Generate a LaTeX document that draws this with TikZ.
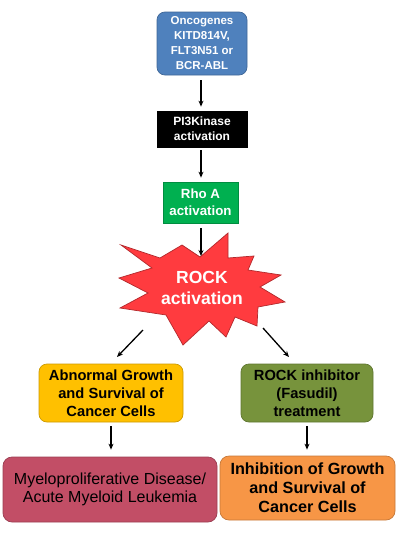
\documentclass[tikz,border=0pt]{standalone}
\usepackage{fontspec}
\setmainfont{Liberation Sans}
\usetikzlibrary{arrows.meta}
\definecolor{cblue}{HTML}{4F81BD}
\definecolor{cgreen}{HTML}{00B050}
\definecolor{cstar}{HTML}{FF3B3F}
\definecolor{cyellow}{HTML}{FFC000}
\definecolor{colive}{HTML}{77933C}
\definecolor{crose}{HTML}{C24E66}
\definecolor{corange}{HTML}{F79646}
\tikzset{
  box/.style={draw=#1!80!black, fill=#1, line width=0.7pt, inner sep=0pt, align=center},
  arr/.style={-{Stealth[length=6pt,width=5pt]}, line width=1.3pt, black},
}
\begin{document}
\begin{tikzpicture}[x=1pt,y=-1pt]
\useasboundingbox (0,0) rectangle (400,533);
% top chain
\node[box=cblue, rounded corners=8pt, minimum width=90pt, minimum height=63pt,
      text=white, font={\fontsize{11.5}{15}\selectfont\bfseries}]
  (onc) at (202,43.5) {Oncogenes\\KITD814V,\\FLT3N51 or\\BCR-ABL};
\node[box=black, minimum width=90pt, minimum height=36pt,
      text=white, font={\fontsize{12}{15}\selectfont\bfseries}]
  (pi3) at (202,129) {PI3Kinase\\activation};
\node[box=cgreen, minimum width=75pt, minimum height=41pt,
      text=white, font={\fontsize{13.3}{17}\selectfont\bfseries}]
  (rho) at (200.5,202.5) {Rho A\\activation};
% star
\draw[fill=cstar, draw=cstar!70!black, line width=0.7pt]
  (228,233) -- (228,258) -- (254,256) -- (248,270) -- (281,275) -- (260,287)
  -- (285,302) -- (258,307) -- (257,326) -- (235,317) -- (226,337) -- (209,321)
  -- (183,345) -- (166,315) -- (120,308) -- (148,293) -- (119,278) -- (152,268)
  -- (121,245) -- (160,258) -- (182,245) -- (200,257) -- cycle;
\node[text=white, align=center, inner sep=0pt,
      font={\fontsize{17.5}{21}\selectfont\bfseries}]
  (rock) at (202,288) {ROCK\\activation};
\coordinate (startop) at (201,256);
\coordinate (starl) at (143,330);
\coordinate (starr) at (263,328);
\coordinate (tipl) at (117,357);
\coordinate (tipr) at (289,357);
\coordinate (ax1) at (201,0);
% bottom boxes
\node[box=cyellow, rounded corners=8pt, minimum width=144pt, minimum height=58pt,
      font={\fontsize{14.7}{18}\selectfont\bfseries}]
  (abn) at (111,393) {Abnormal Growth\\and Survival of\\Cancer Cells};
\node[box=colive, rounded corners=8pt, minimum width=132pt, minimum height=58pt,
      font={\fontsize{14.7}{18}\selectfont\bfseries}]
  (inhib) at (307,393) {ROCK inhibitor\\(Fasudil)\\treatment};
\node[box=crose, rounded corners=9pt, minimum width=214pt, minimum height=65pt,
      font={\fontsize{16}{18.5}\selectfont}]
  (mpd) at (110,489.5) {Myeloproliferative Disease/\\Acute Myeloid Leukemia};
\node[box=corange, rounded corners=9pt, minimum width=175pt, minimum height=64pt,
      font={\fontsize{16.2}{19}\selectfont\bfseries}]
  (res) at (307.5,488) {Inhibition of Growth\\and Survival of\\Cancer Cells};
% arrows
\draw[arr, shorten <=5pt, shorten >=4pt] (ax1 |- onc.south) -- (ax1 |- pi3.north);
\draw[arr, shorten <=3pt, shorten >=4pt] (ax1 |- pi3.south) -- (ax1 |- rho.north);
\draw[arr, shorten <=5pt] (ax1 |- rho.south) -- (startop);
\draw[arr] (starl) -- (tipl);
\draw[arr] (starr) -- (tipr);
\draw[arr, shorten <=4pt, shorten >=7pt] (abn.south) -- (abn.south |- mpd.north);
\draw[arr, shorten <=4pt, shorten >=6pt] (inhib.south) -- (inhib.south |- res.north);
\end{tikzpicture}
\end{document}
